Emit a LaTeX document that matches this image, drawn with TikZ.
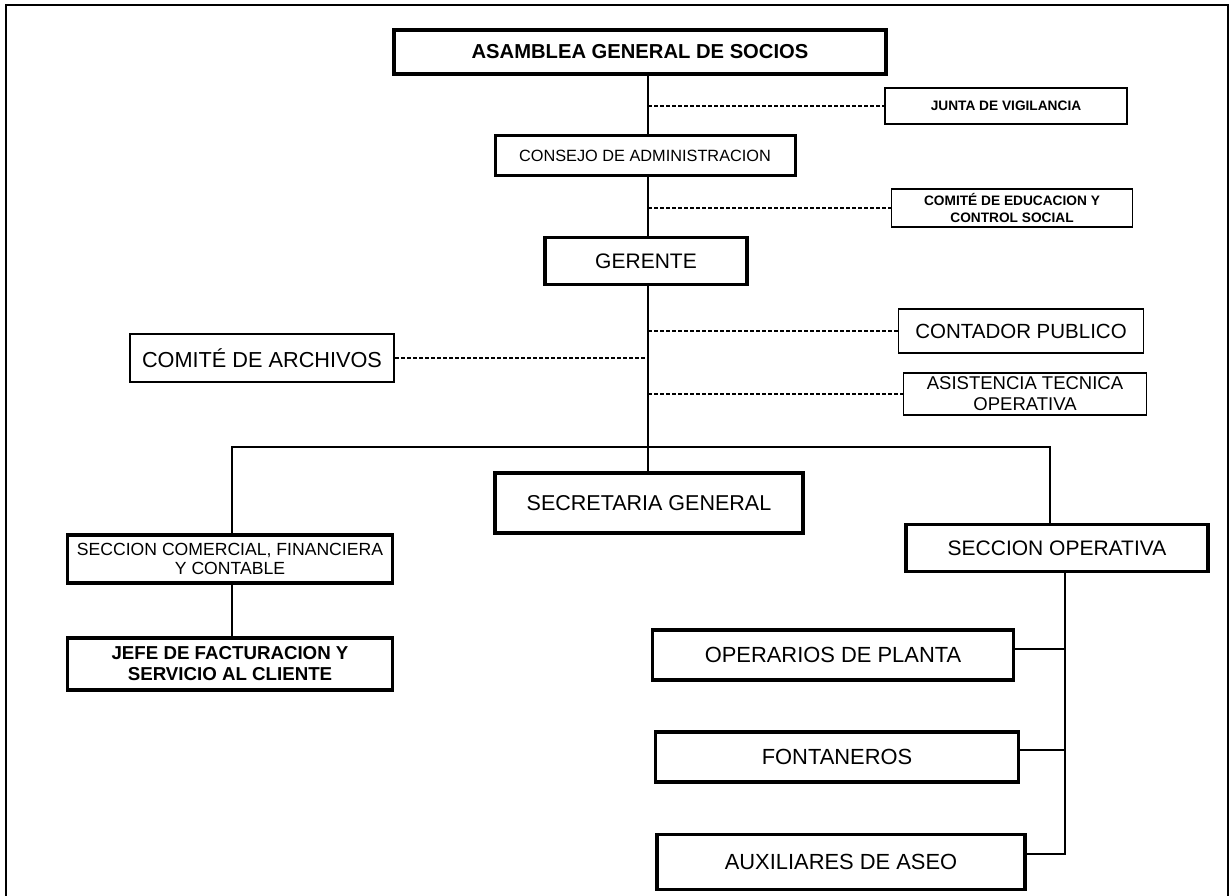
\documentclass[tikz,border=0pt]{standalone}
\usepackage{fontspec}
\setmainfont{Liberation Sans}
\newcommand{\fs}[2]{\fontsize{#1}{#2}\selectfont}
\begin{document}
\begin{tikzpicture}[x=1pt,y=-1pt,
  heavybox/.style={draw, line width=3.8pt, fill=white, inner sep=0pt, align=center},
  lightbox/.style={draw, line width=1.6pt, fill=white, inner sep=0pt, align=center},
  link/.style={line width=2pt},
  dotlink/.style={line width=1.6pt, dash pattern=on 4pt off 2pt}
]
\useasboundingbox (0,0) rectangle (1232,896);
% frame
\draw[line width=2pt] (6,896) -- (6,5) -- (1228,5) -- (1228,896);

% nodes
\node[heavybox, minimum width=492, minimum height=44, font={\fs{20.2}{24}\bfseries}] (asamblea) at (640,52)
  {ASAMBLEA GENERAL DE SOCIOS};
\node[lightbox, minimum width=242, minimum height=36, font={\fs{13.7}{16}\bfseries}] (junta) at (1006,106)
  {JUNTA DE VIGILANCIA};
\node[heavybox, line width=3pt, minimum width=300, minimum height=40, font={\fs{16.3}{19}}] (consejo) at (645,156)
  {CONSEJO DE ADMINISTRACION};
\node[lightbox, minimum width=241, minimum height=38, font={\fs{13.7}{17}\bfseries}] (educacion) at (1012,208)
  {COMITÉ DE EDUCACION Y\\CONTROL SOCIAL};
\node[heavybox, minimum width=202, minimum height=47, font={\fs{21}{24}}] (gerente) at (646,261)
  {GERENTE};
\node[lightbox, minimum width=245, minimum height=44, font={\fs{20.5}{24}}] (contador) at (1021,331)
  {CONTADOR PUBLICO};
\node[lightbox, line width=2pt, minimum width=264, minimum height=48, font={\fs{21.7}{25}}] (archivos) at (262,358)
  {COMITÉ DE ARCHIVOS};
\node[lightbox, minimum width=243, minimum height=42, font={\fs{18.5}{21}}] (asistencia) at (1025,394)
  {ASISTENCIA TECNICA\\OPERATIVA};
\node[heavybox, minimum width=308, minimum height=60, font={\fs{21.5}{25}}] (secretaria) at (649,503)
  {SECRETARIA GENERAL};
\node[heavybox, minimum width=325, minimum height=48, font={\fs{17.6}{19}}] (comercial) at (230,559)
  {SECCION COMERCIAL, FINANCIERA\\Y CONTABLE};
\node[heavybox, minimum width=325, minimum height=52, font={\fs{18.7}{21}\bfseries}] (jefe) at (230,664)
  {JEFE DE FACTURACION Y\\SERVICIO AL CLIENTE};
\node[heavybox, line width=3.5pt, minimum width=302, minimum height=47, font={\fs{21}{24}}] (secop) at (1057,548)
  {SECCION OPERATIVA};
\node[heavybox, minimum width=361, minimum height=50, font={\fs{21.9}{25}}] (operarios) at (833,655)
  {OPERARIOS DE PLANTA};
\node[heavybox, minimum width=363, minimum height=50, font={\fs{21.9}{25}}] (fontaneros) at (837,757)
  {FONTANEROS};
\node[heavybox, minimum width=368, minimum height=55, font={\fs{21.9}{25}}] (auxiliares) at (841,862)
  {AUXILIARES DE ASEO};

% trunk coordinates
\coordinate (trunk) at (648,0);
\coordinate (bl) at (232,447);
\coordinate (br) at (1050,447);
\coordinate (spine) at (1065,0);
\coordinate (opc) at ([yshift=6pt]operarios.east);
\coordinate (fonc) at ([yshift=7pt]fontaneros.east);
\coordinate (auxc) at ([yshift=8pt]auxiliares.east);

% solid connectors
\draw[link] (asamblea.south -| trunk) -- (consejo.north -| trunk);
\draw[link] (consejo.south -| trunk) -- (gerente.north -| trunk);
\draw[link] (gerente.south -| trunk) -- (secretaria.north -| trunk);
\draw[link] (comercial.north -| bl) -- (bl) -- (br) -- (secop.north -| br);
\draw[link] (comercial.south -| bl) -- (jefe.north -| bl);
\draw[link] (secop.south -| spine) -- (spine |- auxc) -- (auxc);
\draw[link] (opc) -- (opc -| spine);
\draw[link] (fonc) -- (fonc -| spine);

% dashed connectors
\draw[dotlink] (trunk |- junta.west) -- (junta.west);
\draw[dotlink] (trunk |- educacion.west) -- (educacion.west);
\draw[dotlink] (trunk |- contador.west) -- (contador.west);
\draw[dotlink] (archivos.east) -- (archivos.east -| trunk);
\draw[dotlink] (trunk |- asistencia.west) -- (asistencia.west);
\end{tikzpicture}
\end{document}
